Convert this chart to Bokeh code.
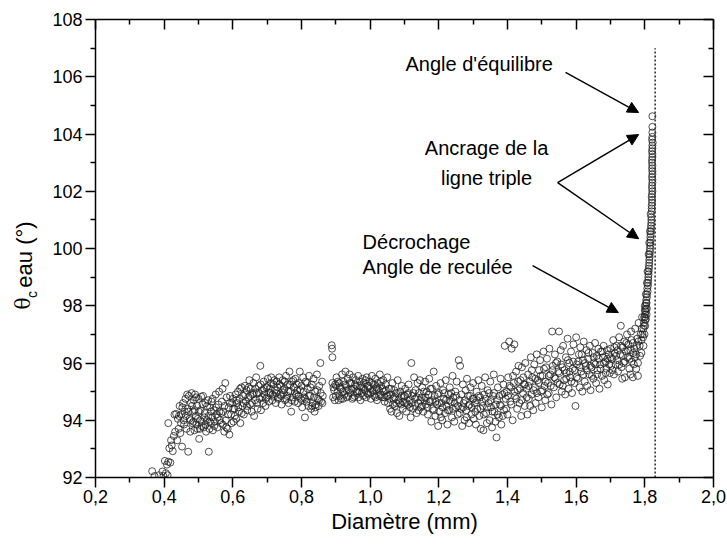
from bokeh.plotting import figure
from bokeh.layouts import row
from bokeh.models import (LinearAxis, Range1d, Label, Arrow, NormalHead,
                          FixedTicker, CustomJSTickFormatter)
from bokeh.core.properties import value
from bokeh.embed import file_html
from bokeh.resources import INLINE
import math

# ---------------- data ----------------
seg_rise = [(0.365,92.22),(0.372,92.05),(0.385,92.08),(0.395,92.21),(0.398,92.05),(0.402,92.58),(0.405,92.15),
            (0.408,92.45),(0.41,92.08),(0.412,92.55),(0.415,93.02),(0.418,92.52),(0.42,93.3),(0.412,93.9),
            (0.422,93.12),(0.425,92.92),(0.428,93.45),(0.43,94.2),(0.432,93.6),(0.435,94.22),(0.438,93.3),
            (0.44,94.05),(0.442,93.7),(0.445,94.5),(0.447,93.55),(0.45,94.2),(0.452,93.08),(0.455,94.6),
            (0.458,93.85),(0.46,94.3)]
seg_low = [(0.462,94.75),(0.465,93.7),(0.468,94.4),(0.47,92.9),(0.472,94.85),(0.474,94.05),(0.476,93.6),(0.478,94.6),
           (0.48,94.95),(0.482,93.9),(0.484,94.3),(0.486,94.7),(0.488,93.65),(0.49,94.9),(0.492,94.15),(0.494,93.85),
           (0.496,94.5),(0.498,94.05),(0.5,94.75),(0.502,93.35),(0.504,93.7),(0.506,94.35),(0.508,94.82),(0.51,93.95),
           (0.512,94.55),(0.515,93.75),(0.518,94.25),(0.52,94.6),(0.522,93.6),(0.525,94.0),(0.528,94.7),(0.53,92.9),
           (0.532,93.7),(0.534,94.45),(0.536,93.9),(0.538,94.65),(0.54,94.1),(0.542,93.65),(0.545,94.35),(0.548,93.95),
           (0.55,94.9),(0.552,94.2),(0.555,93.75),(0.558,94.55),(0.56,95.0),(0.562,94.0),(0.565,93.9),(0.568,94.65),
           (0.57,95.1),(0.572,94.3),(0.575,93.6),(0.578,95.3),(0.58,94.0),(0.582,94.8),(0.585,93.7),(0.588,94.45),
           (0.59,93.5),(0.592,94.85),(0.595,94.2),(0.598,94.6)]
seg_low_b = [(0.443,94.15),(0.449,93.9),(0.453,94.45),(0.457,94.0),(0.463,94.15),(0.467,94.9),(0.471,94.3),(0.477,94.0),
             (0.481,94.5),(0.485,93.95),(0.489,94.35),(0.493,94.8),(0.497,93.7),(0.501,94.3),(0.505,94.0),(0.509,93.8),
             (0.513,94.85),(0.517,94.1),(0.521,93.85),(0.525,94.5),(0.529,94.15),(0.533,93.95),(0.537,94.3),(0.541,94.75),
             (0.546,93.8),(0.551,94.45),(0.556,94.1),(0.561,94.3),(0.566,94.25),(0.571,93.85),(0.576,94.5),(0.581,93.75),
             (0.586,94.2),(0.591,94.6),(0.596,93.9)]
seg_mid = [(0.6,94.75),(0.602,93.95),(0.605,94.4),(0.608,94.9),(0.61,94.05),(0.612,94.6),(0.615,95.0),(0.618,94.3),
           (0.62,94.75),(0.622,93.9),(0.625,95.15),(0.628,94.5),(0.63,94.85),(0.632,94.2),(0.635,95.2),(0.638,94.65),
           (0.64,95.05),(0.642,94.35),(0.645,94.8),(0.648,95.4),(0.65,94.55),(0.652,95.1),(0.655,94.3),(0.658,94.9),
           (0.66,95.3),(0.662,94.15),(0.665,94.7),(0.668,95.5),(0.67,94.95),(0.672,94.4),(0.675,95.2),(0.678,94.75),
           (0.68,95.9),(0.682,94.35),(0.685,95.05),(0.688,94.6),(0.69,95.35),(0.692,94.9),(0.695,94.5),(0.698,95.15),
           (0.7,94.8),(0.702,95.45),(0.705,94.65),(0.708,95.1),(0.71,94.95),(0.712,95.5),(0.715,94.7),(0.718,95.25),
           (0.72,94.85),(0.722,95.05),(0.725,94.6),(0.728,95.35),(0.73,95.15),(0.732,94.75),(0.735,95.5),(0.738,94.9),
           (0.74,95.2),(0.742,94.55),(0.745,95.4),(0.748,94.95),(0.75,95.1),(0.752,94.7),(0.755,95.55),(0.758,94.85),
           (0.76,95.25),(0.762,94.6),(0.765,95.7),(0.768,95.0),(0.77,94.3),(0.772,95.35),(0.775,94.8),(0.778,95.15),
           (0.78,94.65),(0.782,95.45),(0.785,94.9),(0.788,95.05),(0.79,94.6),(0.792,95.3),(0.795,95.7),(0.798,94.75),
           (0.8,95.2),(0.802,94.45),(0.805,95.5),(0.808,94.8),(0.81,94.1),(0.812,95.35),(0.815,94.65),(0.818,95.1),
           (0.82,94.5),(0.822,95.55),(0.825,94.85),(0.828,94.4),(0.83,95.25),(0.832,94.6),(0.835,95.45),(0.838,94.3),
           (0.84,95.0),(0.842,94.55),(0.845,95.6),(0.848,94.75),(0.85,94.5),(0.852,95.2),(0.855,96.0),(0.857,94.65),
           (0.86,95.35),(0.862,94.85)]
seg_mid_b = [(0.601,94.4),(0.606,94.15),(0.611,94.7),(0.616,94.45),(0.621,95.1),(0.626,94.25),(0.631,94.6),(0.636,94.9),
             (0.641,94.5),(0.646,95.15),(0.651,94.85),(0.656,94.6),(0.661,94.95),(0.666,95.1),(0.671,94.6),(0.676,94.95),
             (0.681,95.25),(0.686,94.8),(0.691,95.1),(0.696,94.75),(0.701,95.2),(0.706,94.95),(0.711,95.3),(0.716,94.9),
             (0.721,95.4),(0.726,94.95),(0.731,94.8),(0.736,95.25),(0.741,94.85),(0.746,95.05),(0.751,95.35),(0.756,94.75),
             (0.761,95.0),(0.766,95.25),(0.771,94.7),(0.776,95.4),(0.781,94.95),(0.786,95.25),(0.791,94.85),(0.796,95.05),
             (0.801,94.7),(0.806,95.0),(0.811,94.75),(0.816,95.3),(0.821,94.85),(0.826,95.15),(0.831,94.5),(0.836,94.8),
             (0.841,94.45),(0.846,95.05),(0.851,94.7),(0.856,94.95),(0.861,94.6)]
seg_plateau = [(0.888,96.62),(0.889,96.5),(0.89,96.2),(0.89,95.3),(0.892,94.8),(0.895,95.05),(0.898,95.25),(0.9,94.85),
               (0.902,95.5),(0.905,95.0),(0.908,94.7),(0.91,95.3),(0.912,95.15),(0.915,94.75),(0.918,95.6),(0.92,95.0),
               (0.922,95.35),(0.925,94.9),(0.928,95.7),(0.93,95.2),(0.932,94.8),(0.935,95.45),(0.938,95.05),(0.94,95.6),
               (0.942,94.95),(0.945,95.3),(0.948,94.75),(0.95,95.5),(0.952,95.1),(0.955,94.85),(0.958,95.4),(0.96,95.2),
               (0.962,94.95),(0.965,95.55),(0.968,95.0),(0.97,95.35),(0.972,94.7),(0.975,95.15),(0.978,95.45),(0.98,94.85),
               (0.982,95.3),(0.985,95.05),(0.988,94.8),(0.99,95.5),(0.992,95.2),(0.995,94.9),(0.998,95.35),(1.0,95.1),
               (1.002,94.75),(1.005,95.55),(1.008,95.0),(1.01,95.25),(1.012,94.85),(1.015,95.45),(1.018,95.15),(1.02,94.7),
               (1.022,95.3),(1.025,95.05),(1.028,95.6),(1.03,94.9),(1.032,95.2),(1.035,94.8),(1.038,95.4),(1.04,95.0),
               (1.042,94.65),(1.045,95.25),(1.048,94.85),(1.05,95.5),(1.052,94.6),(1.055,95.1),(1.058,94.4),(1.06,94.9),
               (1.062,94.3),(1.065,95.3),(1.068,94.75),(1.07,95.05),(1.072,94.5),(1.075,94.95),(1.078,94.25),(1.08,95.4),
               (1.082,94.7),(1.085,94.15),(1.088,95.0),(1.09,94.55),(1.092,95.2),(1.095,94.4),(1.098,94.85)]
seg_plateau_b = [(0.893,95.15),(0.897,94.7),(0.901,95.2),(0.906,95.35),(0.911,94.85),(0.916,95.1),(0.921,94.75),
                 (0.926,95.25),(0.931,95.05),(0.936,94.85),(0.941,95.3),(0.946,95.1),(0.951,94.8),(0.956,95.25),
                 (0.961,95.0),(0.966,94.8),(0.971,95.2),(0.976,94.95),(0.981,95.1),(0.986,95.4),(0.991,94.95),
                 (0.996,95.2),(1.001,94.95),(1.006,95.3),(1.011,95.05),(1.016,94.8),(1.021,95.1),(1.026,94.85),
                 (1.031,95.35),(1.036,95.1),(1.041,94.8),(1.046,95.05),(1.051,94.85),(1.056,94.75),(1.061,95.1),
                 (1.066,94.55),(1.071,94.8),(1.076,94.6),(1.081,94.95),(1.086,94.6),(1.091,94.85),(1.096,94.65)]
seg_dip = [(1.1,94.6),(1.102,95.1),(1.105,94.3),(1.108,94.9),(1.11,94.55),(1.112,95.25),(1.115,94.7),(1.118,94.1),
           (1.12,96.0),(1.122,94.85),(1.125,94.4),(1.128,95.5),(1.13,94.75),(1.132,95.05),(1.135,94.25),(1.138,95.3),
           (1.14,94.6),(1.142,94.95),(1.145,95.4),(1.148,94.45),(1.15,94.8),(1.152,95.15),(1.155,94.3),(1.158,94.7),
           (1.16,95.35),(1.162,94.55),(1.165,95.0),(1.168,94.2),(1.17,94.9),(1.172,95.45),(1.175,94.65),(1.178,93.95),
           (1.18,95.1),(1.182,94.4),(1.185,95.7),(1.188,94.85),(1.19,94.15),(1.192,95.2),(1.195,94.55),(1.198,93.8),
           (1.2,94.95),(1.202,94.3),(1.205,95.3),(1.208,94.6),(1.21,94.0),(1.212,95.05),(1.215,94.75),(1.218,94.25),
           (1.22,95.4),(1.222,94.5),(1.225,93.85),(1.228,94.9),(1.23,94.35),(1.232,95.15),(1.235,94.65),(1.238,94.1),
           (1.24,95.55),(1.242,94.8),(1.245,93.95),(1.248,95.0),(1.25,94.45),(1.252,95.35),(1.255,94.2),(1.258,96.1),
           (1.26,94.7),(1.262,95.9),(1.265,94.4),(1.268,93.8),(1.27,95.25),(1.272,94.6),(1.275,94.0),(1.278,95.05),
           (1.28,94.35),(1.282,95.45),(1.285,94.85),(1.288,93.9),(1.29,94.55),(1.292,95.15),(1.295,94.2),(1.298,94.75),
           (1.3,95.3),(1.302,94.05),(1.305,94.6),(1.308,93.85),(1.31,95.0),(1.312,94.4),(1.315,95.4),(1.318,94.15),
           (1.32,94.8),(1.322,93.7),(1.325,95.2),(1.328,94.5),(1.33,93.65),(1.332,94.9),(1.335,95.5),(1.338,94.25),
           (1.34,93.9),(1.342,95.05),(1.345,94.6),(1.348,94.0),(1.35,95.35),(1.352,94.45),(1.355,93.75),(1.358,94.85),
           (1.36,95.6),(1.362,94.3),(1.365,93.95),(1.368,93.4),(1.37,94.7),(1.372,95.15),(1.375,94.1),(1.378,94.55),
           (1.38,95.45),(1.382,93.85),(1.385,94.9),(1.388,95.25),(1.39,94.35),(1.392,96.6),(1.395,94.75),(1.398,95.0)]
seg_dip_b = [(1.101,94.85),(1.106,94.6),(1.111,94.95),(1.116,94.45),(1.121,94.6),(1.126,94.95),(1.131,94.5),(1.136,94.8),
             (1.141,94.35),(1.146,94.7),(1.151,94.5),(1.156,95.0),(1.161,94.8),(1.166,94.45),(1.171,94.65),(1.176,95.1),
             (1.181,94.7),(1.186,94.35),(1.191,94.65),(1.196,94.9),(1.201,94.6),(1.206,94.1),(1.211,94.45),(1.216,94.95),
             (1.221,94.7),(1.226,94.35),(1.231,94.7),(1.236,94.95),(1.241,94.4),(1.246,94.6),(1.251,94.85),(1.256,94.5),
             (1.261,94.25),(1.266,94.9),(1.271,94.45),(1.276,94.7),(1.281,94.1),(1.286,94.5),(1.291,94.85),(1.296,94.45),
             (1.301,94.75),(1.306,94.3),(1.311,94.7),(1.316,94.85),(1.321,94.4),(1.326,94.65),(1.331,94.2),(1.336,94.75),
             (1.341,94.45),(1.346,94.95),(1.351,94.7),(1.356,94.3),(1.361,94.95),(1.366,94.55),(1.371,94.2),(1.376,94.85),
             (1.381,94.5),(1.386,94.15),(1.391,94.95),(1.396,94.4)]
seg_climb = [(1.4,94.2),(1.402,95.5),(1.405,96.75),(1.408,94.65),(1.41,95.15),(1.412,96.5),(1.415,94.0),(1.418,95.3),
             (1.42,96.65),(1.422,94.85),(1.425,95.7),(1.428,94.4),(1.43,95.05),(1.432,95.9),(1.435,94.6),(1.438,95.4),
             (1.44,94.15),(1.442,95.85),(1.445,94.95),(1.448,95.25),(1.45,94.5),(1.452,96.0),(1.455,95.1),(1.458,94.2),
             (1.46,95.6),(1.462,94.75),(1.465,95.35),(1.468,96.2),(1.47,94.9),(1.472,95.5),(1.475,94.35),(1.478,95.95),
             (1.48,95.15),(1.482,94.6),(1.485,96.3),(1.488,95.4),(1.49,94.8),(1.492,95.75),(1.495,96.1),(1.498,95.0),
             (1.5,94.45),(1.502,95.55),(1.505,96.4),(1.508,95.2),(1.51,94.7),(1.512,95.85),(1.515,96.15),(1.518,95.3),
             (1.52,94.95),(1.522,96.5),(1.525,95.6),(1.528,94.55),(1.53,97.1),(1.532,95.9),(1.535,95.15),(1.538,96.3),
             (1.54,95.45),(1.542,94.8),(1.545,96.05),(1.548,95.7),(1.55,97.1),(1.552,95.25),(1.555,96.45),(1.558,95.0),
             (1.56,95.85),(1.562,96.6),(1.565,95.4),(1.568,94.9),(1.57,96.2),(1.572,95.65),(1.575,96.85),(1.578,95.1),
             (1.58,96.0),(1.582,95.5),(1.585,96.4),(1.588,94.95),(1.59,95.8),(1.592,96.65),(1.595,95.3),(1.598,94.5),
             (1.6,96.9),(1.602,95.95),(1.605,95.45),(1.608,96.3),(1.61,95.15),(1.612,96.55),(1.615,95.7),(1.618,95.0),
             (1.62,96.1),(1.622,96.75),(1.625,95.35),(1.628,95.9),(1.63,96.45),(1.632,95.2),(1.635,96.15),(1.638,95.6),
             (1.64,96.6),(1.642,95.05),(1.645,95.85),(1.648,96.35),(1.65,95.45),(1.652,96.0),(1.655,96.7),(1.658,95.3),
             (1.66,96.25),(1.662,95.75),(1.665,96.5),(1.668,95.1),(1.67,95.95),(1.672,96.4),(1.675,95.55),(1.678,96.2),
             (1.68,96.6),(1.682,95.4),(1.685,96.05),(1.688,95.8),(1.69,96.45),(1.692,95.25),(1.695,96.3),(1.698,95.65)]
seg_climb_b = [(1.401,94.85),(1.406,95.2),(1.411,94.55),(1.416,95.55),(1.421,95.0),(1.426,94.75),(1.431,95.35),
               (1.436,95.1),(1.441,94.7),(1.446,95.5),(1.451,95.25),(1.456,94.8),(1.461,95.2),(1.466,94.5),(1.471,95.75),
               (1.476,95.05),(1.481,95.45),(1.486,94.95),(1.491,95.3),(1.496,95.55),(1.501,95.05),(1.506,95.8),
               (1.511,95.35),(1.516,94.9),(1.521,95.55),(1.526,95.2),(1.531,95.75),(1.536,95.5),(1.541,96.0),(1.546,95.3),
               (1.551,95.65),(1.556,95.95),(1.561,95.2),(1.566,95.75),(1.571,95.45),(1.576,96.1),(1.581,95.7),
               (1.586,95.35),(1.591,96.05),(1.596,95.75),(1.601,95.5),(1.606,96.05),(1.611,95.85),(1.616,96.3),
               (1.621,95.6),(1.626,96.0),(1.631,95.75),(1.636,96.35),(1.641,95.9),(1.646,95.55),(1.651,96.2),
               (1.656,95.95),(1.661,95.6),(1.666,96.15),(1.671,95.8),(1.676,96.4),(1.681,96.0),(1.686,95.65),
               (1.691,96.15),(1.696,95.95)]
seg_knee = [(1.7,96.5),(1.702,95.9),(1.705,96.15),(1.708,96.8),(1.71,95.6),(1.712,96.35),(1.715,95.95),(1.718,96.6),
            (1.72,96.1),(1.722,95.7),(1.725,96.9),(1.728,96.3),(1.73,97.3),(1.732,95.85),(1.734,95.45),(1.735,96.55),
            (1.738,96.0),(1.74,96.75),(1.742,95.5),(1.745,96.4),(1.748,97.0),(1.75,96.2),(1.752,96.65),(1.755,95.8),
            (1.758,96.45),(1.76,97.1),(1.762,96.05),(1.765,96.7),(1.768,95.95),(1.77,96.5),(1.772,97.2),(1.775,96.3),
            (1.778,96.85),(1.78,96.0),(1.782,97.4),(1.785,96.6),(1.788,97.0),(1.79,96.35),(1.792,97.6),(1.795,96.9),
            (1.798,97.3),(1.8,97.85),(1.802,97.5),(1.804,98.1),(1.805,97.7),(1.79,96.8),(1.793,97.0),(1.796,97.2),
            (1.798,97.6),(1.8,98.0)]
seg_knee_b = [(1.701,96.2),(1.706,95.75),(1.711,96.55),(1.716,96.25),(1.721,96.45),(1.726,95.95),(1.731,96.6),
              (1.736,96.25),(1.741,96.05),(1.746,96.7),(1.751,96.45),(1.756,96.15),(1.761,96.8),(1.766,96.35),
              (1.771,96.2),(1.776,96.6),(1.781,96.75),(1.786,96.25),(1.791,97.2),(1.796,96.6),(1.799,97.0),
              (1.801,97.3),(1.803,97.55),(1.806,97.9),(1.758,95.6),(1.765,95.5),(1.775,95.8),(1.78,95.55)]
seg_pin = [(1.822,104.62),(1.822,104.25),(1.822,103.9),(1.823,103.7),(1.822,103.5),(1.822,103.3),(1.821,103.1),
           (1.822,102.9),(1.822,102.7),(1.821,102.5),(1.822,102.3),(1.821,102.1),(1.821,101.9),(1.821,101.7),
           (1.82,101.5),(1.82,101.3),(1.819,101.1),(1.819,100.9),(1.818,100.7),(1.817,100.5),(1.817,100.3),
           (1.816,100.1),(1.815,99.9),(1.814,99.7),(1.813,99.5),(1.812,99.3),(1.811,99.1),(1.81,98.9),(1.809,98.7),
           (1.808,98.5),(1.806,98.3),(1.805,98.1),(1.803,97.9),(1.801,97.7),(1.817,101.2),(1.815,100.6),
           (1.813,100.2),(1.811,99.8),(1.808,99.2),(1.806,98.8),(1.803,98.4)]
seg_pin_b = [(1.822,104.05),(1.821,103.8),(1.822,103.6),(1.821,103.4),(1.822,103.2),(1.821,103.0),(1.821,102.8),
             (1.822,102.6),(1.822,102.4),(1.821,102.2),(1.822,102.0),(1.82,101.8),(1.821,101.6),(1.82,101.4),
             (1.819,101.0),(1.818,100.8),(1.818,100.6),(1.816,100.4),(1.816,100.2),(1.815,100.0),(1.814,99.8),
             (1.813,99.6),(1.812,99.4),(1.811,99.2),(1.81,99.0),(1.809,98.8),(1.807,98.6),(1.806,98.4),(1.804,98.2),
             (1.803,98.0),(1.802,97.8),(1.8,97.6),(1.797,97.4)]

segments = [seg_rise, seg_low, seg_low_b, seg_mid, seg_mid_b, seg_plateau, seg_plateau_b,
            seg_dip, seg_dip_b, seg_climb, seg_climb_b, seg_knee, seg_knee_b, seg_pin, seg_pin_b]
diameter = [pt[0] for seg in segments for pt in seg]
theta = [pt[1] for seg in segments for pt in seg]

x_ticks = [0.2, 0.4, 0.6, 0.8, 1.0, 1.2, 1.4, 1.6, 1.8, 2.0]
x_tick_labels = ["0,2", "0,4", "0,6", "0,8", "1,0", "1,2", "1,4", "1,6", "1,8", "2,0"]
x_minor = [0.3, 0.5, 0.7, 0.9, 1.1, 1.3, 1.5, 1.7, 1.9]
y_ticks = [92, 94, 96, 98, 100, 102, 104, 106, 108]
y_minor = [93, 95, 97, 99, 101, 103, 105, 107]

limit_x = [1.83, 1.83]
limit_y = [92, 107]

notes = ["Angle d'équilibre", "Ancrage de la", "ligne triple", "Décrochage", "Angle de reculée"]
note_x = [1.103, 1.339, 1.339, 0.978, 0.978]
note_y = [106.46, 103.52, 102.48, 100.24, 99.36]
note_align = ["left", "center", "center", "left", "left"]

arrow_x0 = [1.569, 1.546, 1.546, 1.473]
arrow_y0 = [106.15, 102.30, 102.30, 99.40]
arrow_x1 = [1.782, 1.782, 1.782, 1.723]
arrow_y1 = [104.75, 103.98, 100.34, 97.76]

y_title_parts = ["θ", "c", "eau (°)"]

FONT = "Liberation Sans"

# ---------------- y title strip (its frame is aligned with the main frame) ----------------
ttl = figure(width=45, height=550, output_backend="svg", toolbar_location=None,
             x_range=Range1d(0, 45), y_range=Range1d(92, 108),
             x_axis_location=None, y_axis_location=None,
             min_border=0, min_border_left=0, min_border_right=0, min_border_top=19, min_border_bottom=73)
ttl.xgrid.visible = False
ttl.ygrid.visible = False
ttl.outline_line_color = None
ttl.text(x=[22], y=[98.08], text=[y_title_parts[0]], angle=math.pi / 2, text_align="center",
         text_baseline="middle", text_font=value("DejaVu Serif"), text_font_size="20px", text_color="black")
ttl.text(x=[31], y=[98.39], text=[y_title_parts[1]], angle=math.pi / 2, text_align="center",
         text_baseline="middle", text_font=value(FONT), text_font_size="14px", text_color="black")
ttl.text(x=[24], y=[99.79], text=[y_title_parts[2]], angle=math.pi / 2, text_align="center",
         text_baseline="middle", text_font=value(FONT), text_font_size="22px", text_color="black")

# ---------------- main figure ----------------
p = figure(width=682, height=550, output_backend="svg", toolbar_location=None,
           x_range=Range1d(0.2, 2.0), y_range=Range1d(92, 108),
           min_border_left=50, min_border_right=14, min_border_top=19, min_border_bottom=73)
p.xgrid.visible = False
p.ygrid.visible = False
p.outline_line_color = None

xt = FixedTicker(ticks=x_ticks, minor_ticks=x_minor)
yt = FixedTicker(ticks=y_ticks, minor_ticks=y_minor)
blank = CustomJSTickFormatter(code="return ''")

def style(ax, inward):
    ax.axis_line_width = 1.5
    ax.axis_line_color = "black"
    ax.major_tick_line_width = 1.5
    ax.minor_tick_line_width = 1.5
    ax.major_tick_line_color = "black"
    ax.minor_tick_line_color = "black"
    if inward:
        ax.major_tick_in, ax.major_tick_out = 10, 0
        ax.minor_tick_in, ax.minor_tick_out = 5, 0
    else:
        ax.major_tick_in, ax.major_tick_out = 0, 10
        ax.minor_tick_in, ax.minor_tick_out = 0, 5

bx = p.xaxis[0]
bx.ticker = xt
bx.major_label_overrides = {t: l for t, l in zip(x_ticks, x_tick_labels)}
style(bx, False)
bx.major_label_text_font = FONT
bx.major_label_text_font_size = "18px"
bx.major_label_text_color = "black"
bx.major_label_standoff = 2
bx.axis_label = "Diamètre (mm)"
bx.axis_label_text_font = FONT
bx.axis_label_text_font_size = "22px"
bx.axis_label_text_font_style = "normal"
bx.axis_label_text_color = "black"
bx.axis_label_standoff = 3

ly = p.yaxis[0]
ly.ticker = yt
style(ly, False)
ly.major_label_text_font = FONT
ly.major_label_text_font_size = "18px"
ly.major_label_text_color = "black"
ly.major_label_standoff = 3

top = LinearAxis(ticker=xt, formatter=blank, major_label_standoff=0)
style(top, True)
p.add_layout(top, "above")
right = LinearAxis(ticker=yt, formatter=blank, major_label_standoff=0)
style(right, True)
p.add_layout(right, "right")

# data
p.scatter(diameter, theta, marker="circle", size=7, fill_color=None, line_color="#222222", line_width=0.8)

# dotted limit line
p.line(limit_x, limit_y, line_color="#333333", line_width=1.6, line_dash="2 2")

# annotations
for t, x, y, a in zip(notes, note_x, note_y, note_align):
    p.add_layout(Label(x=x, y=y, text=t, text_align=a, text_baseline="middle",
                       text_font=FONT, text_font_size="20px", text_color="black"))
for x0, y0, x1, y1 in zip(arrow_x0, arrow_y0, arrow_x1, arrow_y1):
    p.add_layout(Arrow(x_start=x0, y_start=y0, x_end=x1, y_end=y1, line_width=1.4, line_color="black",
                       end=NormalHead(size=11, fill_color="black", line_color="black", line_width=1)))

layout = row(ttl, p)
open("out.html", "w").write(file_html(layout, INLINE))
